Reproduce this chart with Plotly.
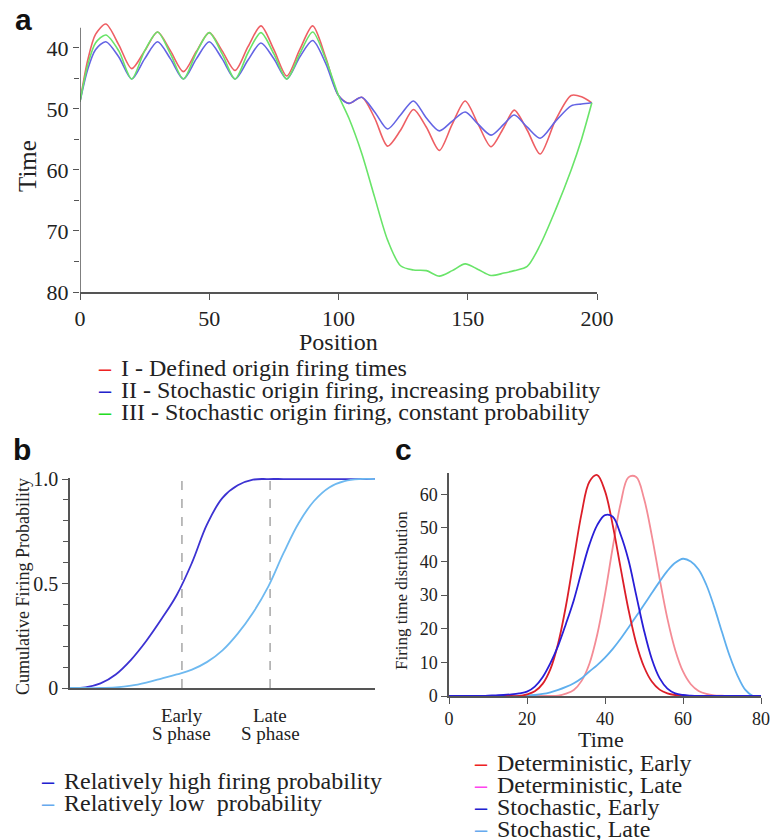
import plotly.graph_objects as go

# ---------------- Panel a data ----------------
position = [0, 3, 6, 10, 15, 20, 25, 30, 35, 40, 45, 50, 55, 60, 65, 70, 75, 80, 85, 90,
            95, 100, 104, 109, 114, 119, 124, 129, 134, 139, 144, 149, 154, 159, 164, 168,
            173, 178, 184, 190, 194, 198]
time_I = [48.8, 42, 37.8, 36.1, 39.5, 43.4, 40.5, 37.4, 40.5, 43.9, 40.6, 37.5, 40.5, 43.7,
          39.8, 36.4, 40.3, 44.6, 40.3, 36.4, 41.5, 47.8, 49.1, 48.1, 51.5, 56.1, 53.5, 50.1,
          53, 56.8, 52.5, 48.7, 52.5, 56.2, 53, 50.2, 53.5, 57.4, 51.8, 47.8, 48, 49]
time_II = [48.8, 43.5, 40.3, 39, 41.5, 45.1, 41.8, 39, 41.8, 45.1, 41.8, 39, 41.8, 45.1, 42,
           39.2, 41.8, 45.1, 41.5, 38.8, 42.5, 47.8, 49.1, 48.1, 50.5, 53.3, 51, 48.7, 51.5,
           53.6, 52, 50.5, 52.5, 54.3, 52.5, 51, 53, 54.8, 52, 49.5, 49.2, 49]
time_III = [48.8, 42.8, 39.2, 37.9, 40.5, 45.1, 40.5, 37.4, 41, 45.1, 40.8, 37.5, 41, 45.1,
            40.8, 37.5, 41, 45.1, 41, 37.4, 41.8, 47.8, 51.5, 57.3, 64.5, 71.5, 75.7, 76.4,
            76.5, 77.4, 76.5, 75.4, 76.3, 77.3, 76.9, 76.5, 75.8, 72.3, 66.5, 60, 55, 49]
a_labels = ["I - Defined origin firing times",
            "II - Stochastic origin firing, increasing probability",
            "III - Stochastic origin firing, constant probability"]

# ---------------- Panel b data ----------------
b_x = [0, 5, 10, 15, 20, 25, 30, 35, 40, 45, 50, 55, 60, 65, 70, 75, 80, 85, 90, 95, 100]
prob_high = [0, 0.003, 0.022, 0.065, 0.135, 0.225, 0.33, 0.445, 0.6, 0.785, 0.91, 0.97,
             0.997, 1, 1, 1, 1, 1, 1, 1, 1]
prob_low = [0, 0, 0, 0.003, 0.011, 0.026, 0.045, 0.065, 0.088, 0.125, 0.18, 0.26, 0.36,
            0.485, 0.645, 0.79, 0.895, 0.96, 0.99, 1, 1]
early_x = 36.7
late_x = 65.6
b_labels = ["Relatively high firing probability", "Relatively low  probability"]

# ---------------- Panel c data ----------------
c_x = list(range(0, 82, 2))
det_early = [0, 0, 0, 0, 0, 0, 0, 0, 0, 0, 0.5, 1.4, 3.6, 8.0, 15.7, 26.9, 40.7, 54.3, 63.7,
             65.7, 60.9, 50.7, 38.1, 25.8, 15.7, 8.7, 4.3, 1.9, 0.8, 0.3, 0.1, 0, 0, 0, 0, 0,
             0, 0, 0, 0, 0]
det_late = [0, 0, 0, 0, 0, 0, 0, 0, 0, 0, 0, 0, 0, 0, 0.1, 0.7, 1.8, 4.5, 9.6, 18.2, 30.2,
            44.3, 57.2, 65, 65.1, 58.7, 47.7, 34.9, 23, 13.7, 7.3, 3.5, 1.5, 0.6, 0.2, 0.1,
            0, 0, 0, 0, 0]
sto_early = [0, 0, 0, 0, 0, 0.1, 0.2, 0.3, 0.5, 0.8, 1.3, 2.8, 5.6, 9.8, 15, 21.5, 28.5, 37,
             45, 50.8, 53.8, 53.3, 48, 40.5, 30, 19.5, 11, 5.3, 2.2, 0.8, 0.3, 0.1, 0, 0, 0,
             0, 0, 0, 0, 0, 0]
sto_late = [0, 0, 0, 0, 0, 0, 0, 0, 0, 0, 0.1, 0.3, 0.6, 1.1, 1.8, 2.7, 3.8, 5.3, 7.3, 9.2,
            11.4, 14, 17, 20.3, 23.7, 27.1, 30.6, 34, 37.2, 39.6, 40.8, 40, 37.6, 33, 26.5,
            19, 11.8, 6, 1.8, 0, 0]
c_labels = ["Deterministic, Early", "Deterministic, Late", "Stochastic, Early", "Stochastic, Late"]

W, H = 772, 840
SERIF = "Liberation Serif, Times New Roman, serif"
SANS = "Liberation Sans, Arial, sans-serif"
AX = "#555555"
TXT = "#222222"


def px(x):
    return x / W


def py(y):
    return 1 - y / H


fig = go.Figure()

# Panel a traces
for ys, col in [(time_I, "rgb(238,95,100)"), (time_II, "rgb(100,100,228)"),
                (time_III, "rgb(105,228,105)")]:
    fig.add_trace(go.Scatter(x=position, y=ys, mode="lines", xaxis="x", yaxis="y",
                             line=dict(color=col, width=1.6, shape="spline", smoothing=0.8),
                             showlegend=False, hoverinfo="skip"))

# Panel b traces
for ys, col in [(prob_high, "rgb(60,50,210)"), (prob_low, "rgb(110,185,240)")]:
    fig.add_trace(go.Scatter(x=b_x, y=ys, mode="lines", xaxis="x2", yaxis="y2",
                             line=dict(color=col, width=1.8, shape="spline", smoothing=1.1),
                             showlegend=False, hoverinfo="skip"))

# Panel c traces
for ys, col in [(det_late, "rgb(244,140,150)"), (sto_late, "rgb(95,175,238)"),
                (det_early, "rgb(220,30,40)"), (sto_early, "rgb(40,30,215)")]:
    fig.add_trace(go.Scatter(x=c_x, y=ys, mode="lines", xaxis="x3", yaxis="y3",
                             line=dict(color=col, width=1.8, shape="spline", smoothing=1.0),
                             showlegend=False, hoverinfo="skip"))

common = dict(showgrid=False, zeroline=False, linecolor=AX, linewidth=1.5, automargin=False,
              ticks="outside", tickcolor=AX, tickwidth=1.3, ticklen=6)

layout = dict(
    template="none",
    width=W, height=H, margin=dict(l=0, r=0, t=0, b=0, pad=0),
    paper_bgcolor="white", plot_bgcolor="white", showlegend=False,
    font=dict(family=SERIF, color=TXT),
    xaxis=dict(domain=[px(80), px(597)], anchor="y", range=[0, 200], tickvals=[0, 50, 100, 150, 200],
               tickfont=dict(size=22, family=SERIF, color=TXT), showline=True, **common),
    yaxis=dict(domain=[py(292), py(21)], anchor="x", range=[80, 35.6], tickvals=[40, 50, 60, 70, 80],
               tickfont=dict(size=22, family=SERIF, color=TXT),
               minor=dict(tickvals=[45, 55, 65, 75], ticks="outside", ticklen=5, tickcolor=AX),
               showline=False, **common),
    xaxis2=dict(domain=[px(70), px(375)], anchor="y2", range=[0, 100], tickvals=[],
                showline=True, **common),
    yaxis2=dict(domain=[py(688), py(478)], anchor="x2", range=[0, 1.005], tickvals=[0, 0.5, 1.0],
                ticktext=["0", "0.5", "1.0"], tickfont=dict(size=20, family=SERIF, color=TXT),
                minor=dict(tickvals=[0.1, 0.2, 0.3, 0.4, 0.6, 0.7, 0.8, 0.9], ticks="outside",
                           ticklen=5, tickcolor=AX),
                showline=True, **common),
    xaxis3=dict(domain=[px(449), px(761)], anchor="y3", range=[0, 80], tickvals=[0, 20, 40, 60, 80],
                tickfont=dict(size=18, family=SERIF, color=TXT), showline=True, **common),
    yaxis3=dict(domain=[py(696), py(473)], anchor="x3", range=[0, 66.3], tickvals=[0, 10, 20, 30, 40, 50, 60],
                tickfont=dict(size=18, family=SERIF, color=TXT), showline=True, **common),
)
fig.update_layout(**layout)

shapes = [
    # panel a y axis line (ends at top of data region)
    dict(type="line", xref="x", yref="y", x0=0, x1=0, y0=80, y1=36.7,
         line=dict(color=AX, width=1.5)),
    dict(type="line", xref="x2", yref="y2", x0=early_x, x1=early_x, y0=0, y1=1,
         line=dict(color="#999999", width=1.3, dash="dash")),
    dict(type="line", xref="x2", yref="y2", x0=late_x, x1=late_x, y0=0, y1=1,
         line=dict(color="#999999", width=1.3, dash="dash")),
]
fig.update_layout(shapes=shapes)

ann = []


def text(x, y, t, size, **kw):
    d = dict(x=px(x), y=py(y), xref="paper", yref="paper", text=t, showarrow=False,
             xanchor="center", yanchor="middle",
             font=dict(size=size, family=kw.pop("family", SERIF), color=kw.pop("color", TXT)))
    d.update(kw)
    ann.append(d)


# Panel letters
text(23, 19, "<b>a</b>", 30, family=SANS, color="#111")
text(22, 449, "<b>b</b>", 30, family=SANS, color="#111")
text(403, 449, "<b>c</b>", 30, family=SANS, color="#111")

# Axis titles
text(28, 166, "Time", 25, textangle=-90)
text(338, 342, "Position", 24)
text(23, 587, "Cumulative Firing Probability", 18, textangle=-90)
text(401, 590, "Firing time distribution", 17, textangle=-90)
text(601, 739, "Time", 22)

# Panel b x labels
for xv, lab in [(early_x, "Early"), (late_x, "Late")]:
    ann.append(dict(x=xv, y=py(715), xref="x2", yref="paper", text=lab, showarrow=False,
                    xanchor="center", yanchor="middle",
                    font=dict(size=19, family=SERIF, color=TXT)))
    ann.append(dict(x=xv, y=py(733), xref="x2", yref="paper", text="S phase", showarrow=False,
                    xanchor="center", yanchor="middle",
                    font=dict(size=19, family=SERIF, color=TXT)))

# Legends
a_cols = ["#ee2222", "#2222cc", "#22dd22"]
for i, (lab, col) in enumerate(zip(a_labels, a_cols)):
    yy = 368 + 22 * i
    text(96, yy, "<b>–</b>", 24, color=col, xanchor="left")
    text(119, yy, lab, 24, xanchor="left")

b_cols = ["#2020d0", "#66aaee"]
for i, (lab, col) in enumerate(zip(b_labels, b_cols)):
    yy = 781 + 22 * i
    text(39, yy, "<b>–</b>", 24, color=col, xanchor="left")
    text(62, yy, lab, 24, xanchor="left")

c_cols = ["#ee2222", "#ff44ee", "#2020d0", "#66aaee"]
for i, (lab, col) in enumerate(zip(c_labels, c_cols)):
    yy = 763 + 22 * i
    text(472, yy, "<b>–</b>", 24, color=col, xanchor="left")
    text(495, yy, lab, 24, xanchor="left")

fig.update_layout(annotations=ann)
fig.write_html("out.html", config={"displayModeBar": False},
               post_script="document.body.style.margin='0';document.body.style.padding='0';")
